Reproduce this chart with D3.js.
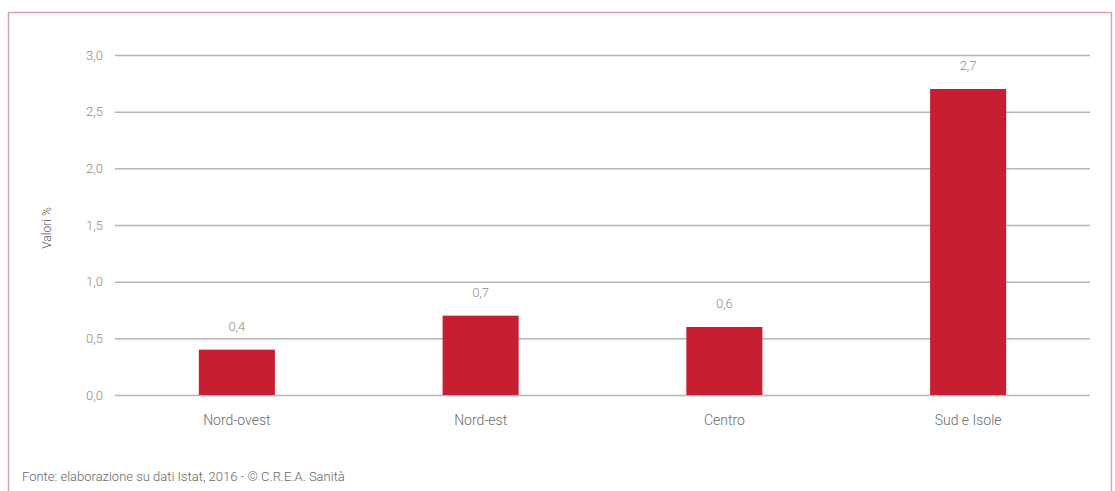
<!DOCTYPE html>
<html>
<head>
<meta charset="utf-8">
<title>Valori %</title>
<script src="https://d3js.org/d3.v7.min.js"></script>
<style>
  body { margin: 0; background: #fff; }
  text { font-family: "Roboto", "DejaVu Sans", sans-serif; font-weight: 300; }
</style>
</head>
<body>
<svg width="1115" height="491"></svg>
<script>
const categories = ["Nord-ovest", "Nord-est", "Centro", "Sud e Isole"];
const values = [0.4, 0.7, 0.6, 2.7];
const yTicks = [0, 0.5, 1.0, 1.5, 2.0, 2.5, 3.0];

const svg = d3.select("svg");
const fmt = d => d3.format(".1f")(d).replace(".", ",");

// frame
svg.append("rect")
  .attr("x", 8.5).attr("y", 12.5)
  .attr("width", 1103).attr("height", 490)
  .attr("fill", "none")
  .attr("stroke", "#d8a0b0")
  .attr("stroke-width", 1.5);

const plotL = 115, plotR = 1090, plotT = 55, plotB = 395;

const x = d3.scaleBand()
  .domain(categories)
  .range([plotL, plotR])
  .paddingInner(0.688)
  .paddingOuter(0.344);

const y = d3.scaleLinear()
  .domain([0, 3])
  .range([plotB, plotT]);

// gridlines + y labels
const yAxis = svg.append("g")
  .attr("transform", `translate(${plotL},0)`)
  .call(d3.axisLeft(y).tickValues(yTicks).tickFormat(fmt).tickSize(-(plotR - plotL)).tickPadding(12));
yAxis.select(".domain").remove();
yAxis.selectAll(".tick line").attr("stroke", "#b5b5b5").attr("stroke-width", 1.5);
yAxis.selectAll(".tick text").attr("fill", "#8a8a8a").attr("font-size", 13);

// bars
svg.selectAll(".bar")
  .data(values)
  .enter()
  .append("rect")
  .attr("class", "bar")
  .attr("x", (d, i) => x(categories[i]))
  .attr("y", d => y(d))
  .attr("width", x.bandwidth())
  .attr("height", d => y(0) - y(d))
  .attr("fill", "#c81e32");

// value labels
svg.selectAll(".val")
  .data(values)
  .enter()
  .append("text")
  .attr("x", (d, i) => x(categories[i]) + x.bandwidth() / 2)
  .attr("y", d => y(d) - 19)
  .attr("text-anchor", "middle")
  .attr("fill", "#8a8a8a")
  .attr("font-size", 13)
  .text(fmt);

// category labels
const xAxis = svg.append("g")
  .attr("transform", `translate(0,${plotB})`)
  .call(d3.axisBottom(x).tickSize(0).tickPadding(20));
xAxis.select(".domain").remove();
xAxis.selectAll(".tick text").attr("fill", "#6a6a6a").attr("font-size", 14);

// y axis title
svg.append("text")
  .attr("transform", "translate(51,228) rotate(-90)")
  .attr("text-anchor", "middle")
  .attr("fill", "#555")
  .attr("font-size", 12)
  .text("Valori %");

// source
svg.append("text")
  .attr("x", 22).attr("y", 481)
  .attr("fill", "#666")
  .attr("font-size", 13)
  .text("Fonte: elaborazione su dati Istat, 2016 - © C.R.E.A. Sanità");
</script>
</body>
</html>
